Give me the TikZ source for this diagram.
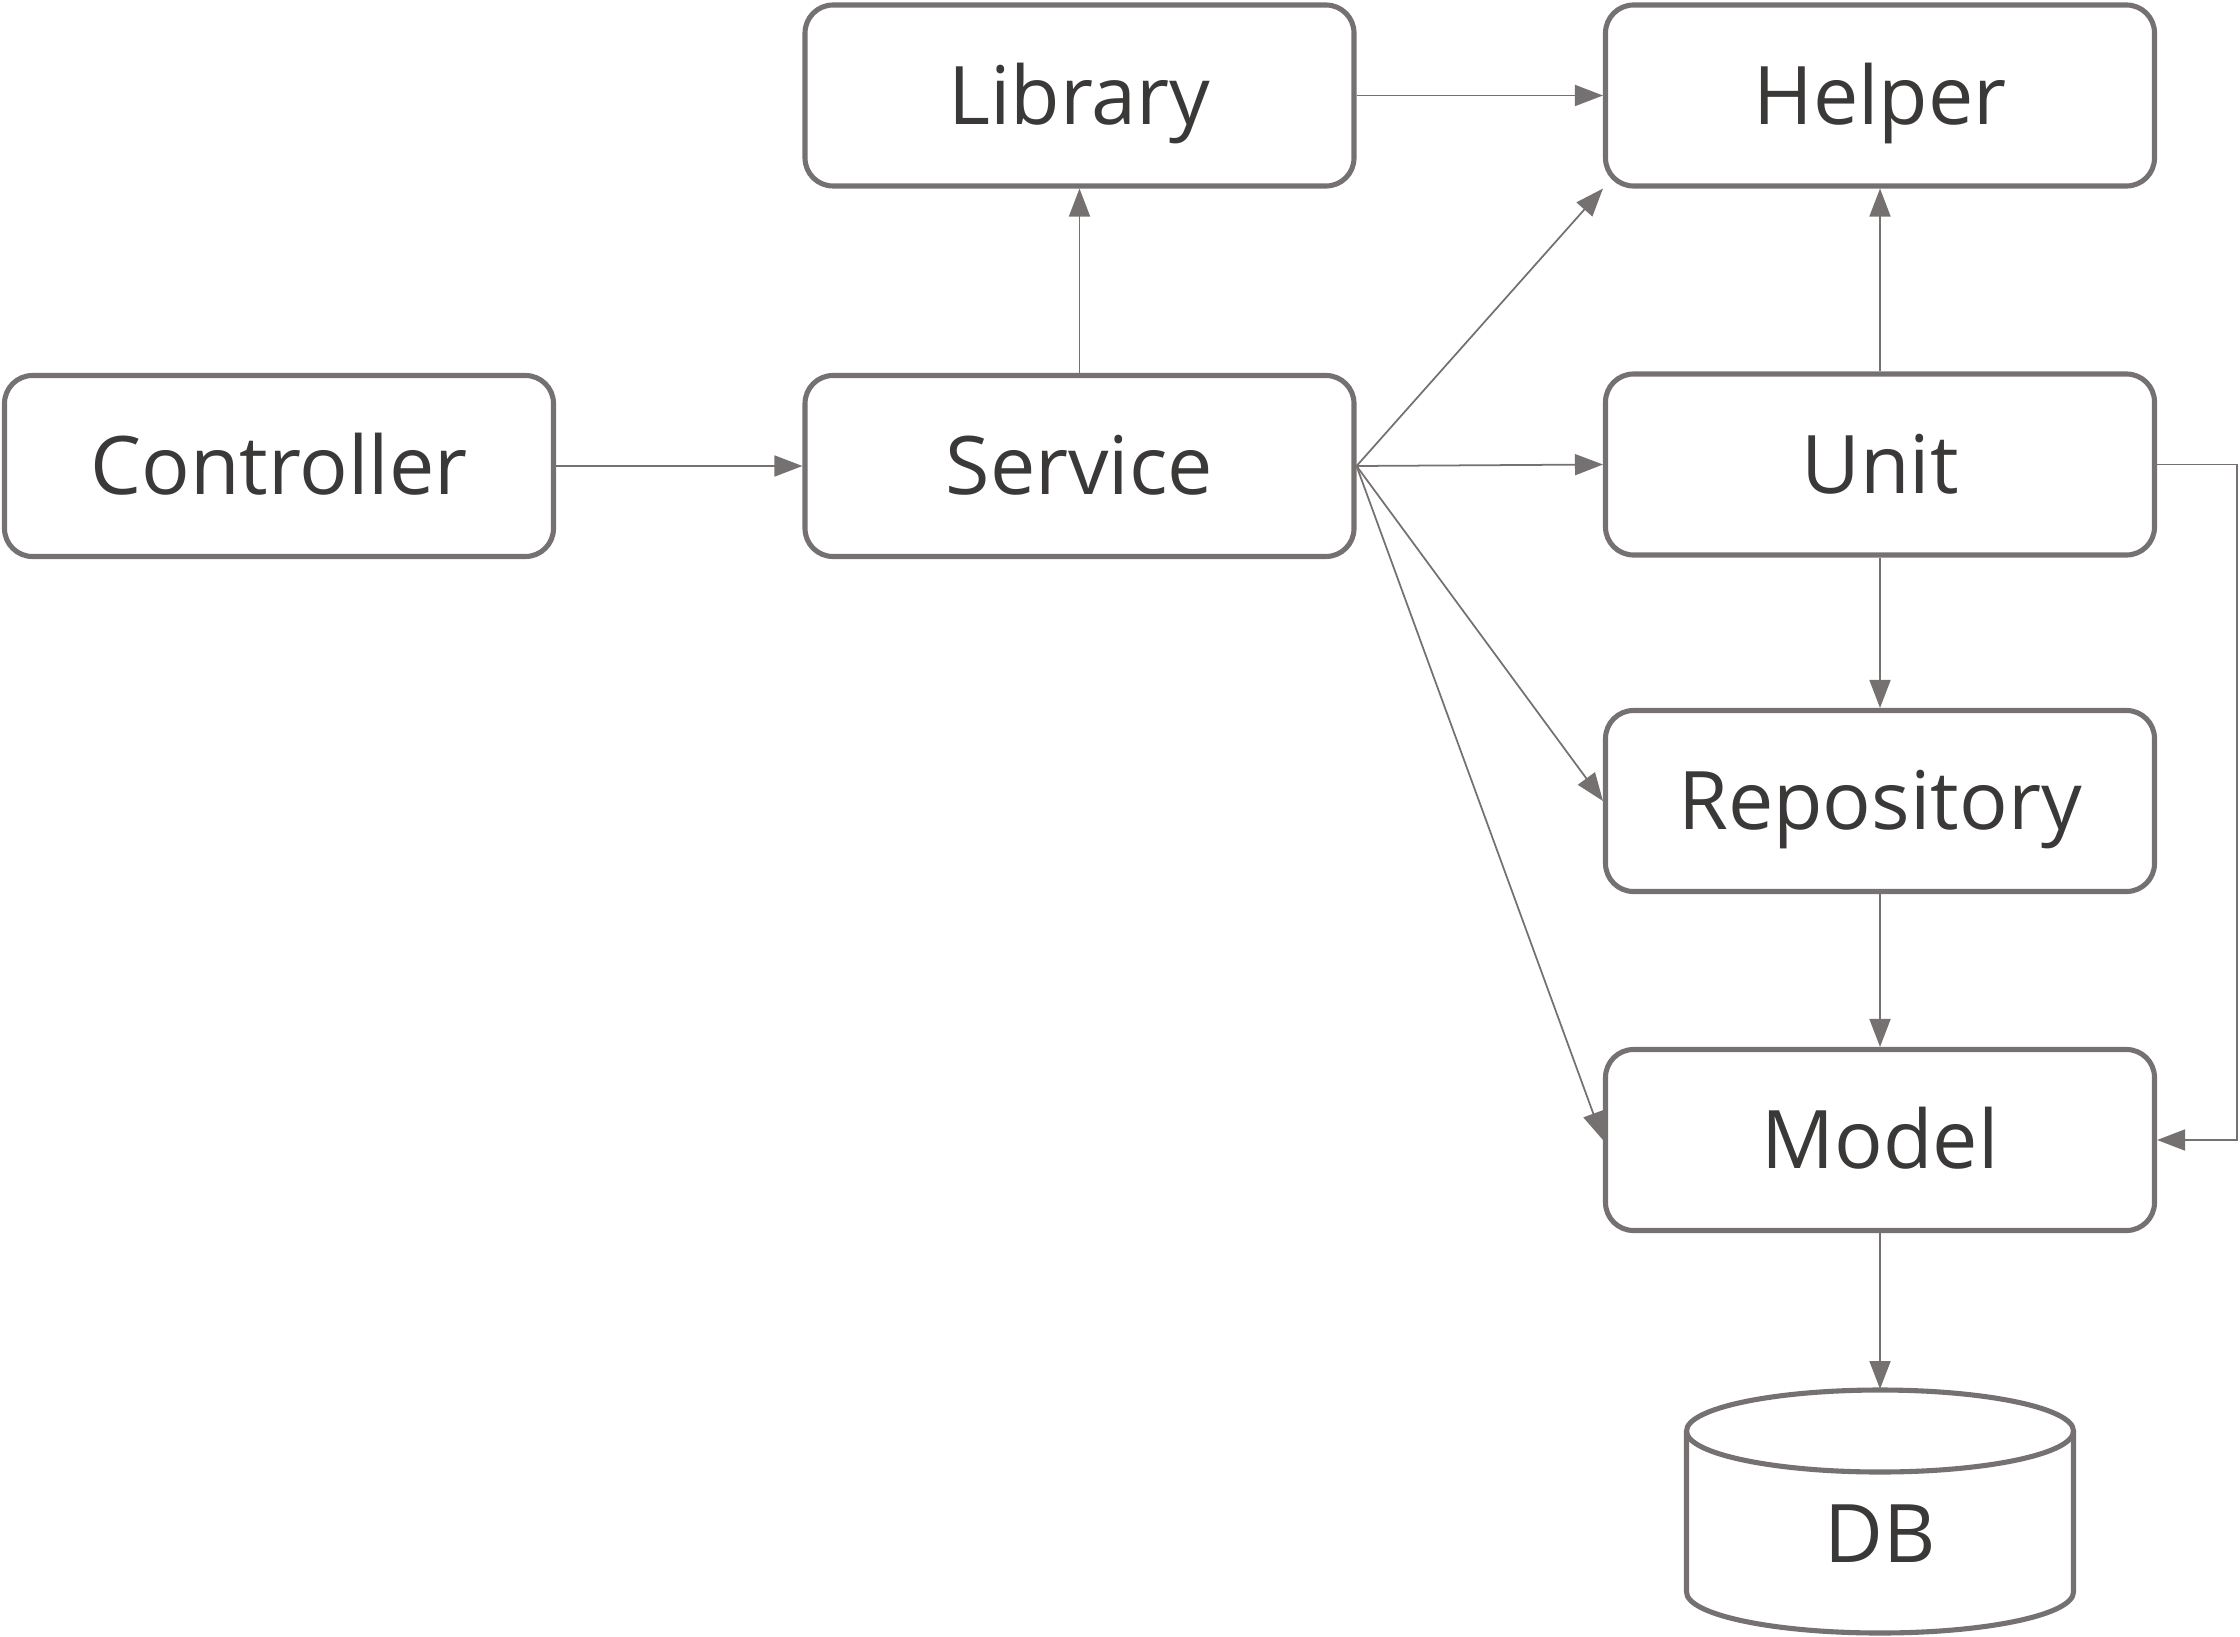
\documentclass[tikz,border=0pt]{standalone}
\usepackage{fontspec}
\setmainfont{Open Sans}
\usepackage[HTML]{xcolor}
\usepackage{tikz}
\usetikzlibrary{arrows.meta}
\definecolor{edgegray}{HTML}{767171}
\definecolor{textgray}{HTML}{3B3838}

\begin{document}
\begin{tikzpicture}[
  box/.style={draw=edgegray, line width=1.45pt, rounded corners=0.28cm,
    minimum width=5.49cm, minimum height=1.81cm, inner sep=0pt,
    text height=16.4pt, text depth=0pt,
    text=textgray, font=\fontsize{23}{27}\selectfont},
  label/.style={text=textgray, font=\fontsize{23}{27}\selectfont, inner sep=0pt},
  link/.style={draw=edgegray, line width=0.5pt, -{Triangle[length=0.28cm, width=0.21cm]}}
]
\useasboundingbox (0,0) rectangle (22.4,-16.37);

% The layers
\node[box] (controller) at (2.79,-4.66) {Controller};
\node[box] (service) at (10.795,-4.66) {Service};
\node[box] (library) at (10.795,-0.955) {Library};
\node[box] (helper) at (18.80,-0.955) {Helper};
\node[box] (unit) at (18.80,-4.645) {Unit};
\node[box] (repository) at (18.80,-8.01) {Repository};
\node[box] (model) at (18.80,-11.40) {Model};

% The database
\draw[edgegray, line width=1.45pt] (16.865,-14.31) -- (16.865,-15.92)
  arc (180:360:1.935 and 0.41) -- (20.735,-14.31);
\draw[edgegray, line width=1.45pt] (18.80,-14.31) ellipse (1.935 and 0.41);
\coordinate (dbtop) at (18.80,-13.89);
\node[label] (db) at (18.80,-15.34) {DB};

% Dependencies
\draw[link] (controller.east) -- (service.west);
\draw[link] (service.north) -- (library.south);
\draw[link] (library.east) -- (helper.west);
\draw[link] (service.east) -- (helper.south west);
\draw[link] (service.east) -- (unit.west);
\draw[link] (service.east) -- (repository.west);
\draw[link] (service.east) -- (model.west);
\draw[link] (unit.north) -- (helper.south);
\draw[link] (unit.south) -- (repository.north);
\draw[link] (repository.south) -- (model.north);
\draw[link] (unit.east) -- ++(0.8,0) |- (model.east);
\draw[link] (model.south) -- (dbtop);
\end{tikzpicture}
\end{document}
